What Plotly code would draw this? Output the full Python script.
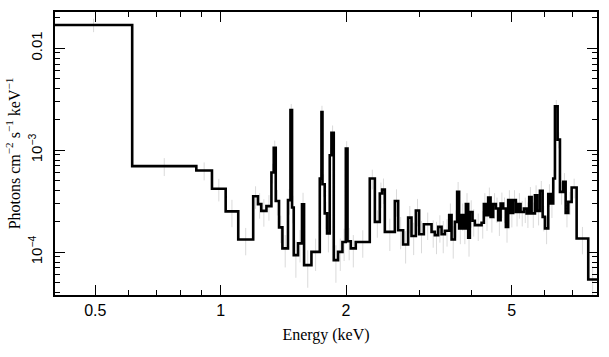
import plotly.graph_objects as go
import math

# Bin edges (keV) of the unfolded spectrum
bin_edges = [0.400, 0.613, 0.874, 0.953, 1.028, 1.102, 1.197, 1.229, 1.252, 1.288,
             1.324, 1.341, 1.356, 1.381, 1.407, 1.451, 1.471, 1.484, 1.498, 1.534,
             1.568, 1.586, 1.652, 1.730, 1.746, 1.756, 1.778, 1.801, 1.828, 1.845,
             1.869, 1.914, 1.961, 1.998, 2.017, 2.054, 2.111, 2.281, 2.346, 2.411,
             2.442, 2.479, 2.620, 2.669, 2.743, 2.820, 2.873, 2.943, 2.997, 3.076,
             3.210, 3.269, 3.330, 3.393, 3.456, 3.539, 3.586, 3.652, 3.698, 3.739,
             3.790, 3.838, 3.881, 3.931, 3.968, 4.027, 4.079, 4.233, 4.287, 4.335,
             4.390, 4.449, 4.514, 4.582, 4.640, 4.703, 4.770, 4.842, 4.904, 4.970,
             5.041, 5.117, 5.184, 5.252, 5.350, 5.431, 5.509, 5.583, 5.686, 5.759,
             5.846, 5.934, 6.010, 6.121, 6.202, 6.292, 6.352, 6.447, 6.530, 6.650,
             6.739, 6.838, 6.967, 7.161, 7.636, 8.015]

# Photons cm^-2 s^-1 keV^-1 per bin
flux = [1.69e-2, 6.97e-4, 6.32e-4, 4.19e-4, 2.51e-4, 1.33e-4, 3.54e-4, 2.96e-4, 2.54e-4, 2.83e-4,
        6.04e-4, 1.053e-3, 3.18e-4, 1.75e-4, 1.09e-4, 3.24e-4, 2.47e-3, 2.74e-4, 9.35e-5, 1.22e-4,
        2.94e-4, 7.46e-5, 1.007e-4, 5.28e-4, 2.37e-3, 4.64e-4, 2.40e-4, 1.53e-4, 8.93e-4, 1.48e-3,
        8.35e-5, 1.007e-4, 1.26e-4, 1.039e-3, 1.28e-4, 1.09e-4, 1.26e-4, 5.28e-4, 1.98e-4, 3.76e-4,
        4.12e-4, 1.58e-4, 3.18e-4, 1.64e-4, 1.19e-4, 2.18e-4, 1.44e-4, 2.56e-4, 1.50e-4, 1.88e-4,
        1.58e-4, 1.47e-4, 1.77e-4, 1.50e-4, 1.62e-4, 2.31e-4, 1.33e-4, 1.98e-4, 3.90e-4, 1.71e-4,
        2.31e-4, 1.71e-4, 2.96e-4, 1.39e-4, 2.48e-4, 2.03e-4, 1.84e-4, 1.94e-4, 2.96e-4, 2.31e-4,
        3.44e-4, 2.22e-4, 2.96e-4, 2.68e-4, 2.06e-4, 3.00e-4, 2.68e-4, 1.77e-4, 3.24e-4, 2.43e-4,
        3.24e-4, 2.48e-4, 2.96e-4, 2.48e-4, 2.68e-4, 2.40e-4, 3.48e-4, 2.40e-4, 3.62e-4, 2.54e-4,
        3.99e-4, 2.22e-4, 1.71e-4, 3.71e-4, 3.00e-4, 5.28e-4, 2.70e-3, 1.27e-3, 3.90e-4, 4.89e-4,
        2.43e-4, 3.11e-4, 4.31e-4, 1.36e-4, 5.40e-5]

# Relative 1-sigma uncertainty per bin
rel_err = [0.15, 0.20, 0.20, 0.25, 0.30, 0.30, 0.25, 0.28, 0.30, 0.28,
           0.22, 0.18, 0.28, 0.30, 0.35, 0.28, 0.15, 0.30, 0.40, 0.35,
           0.30, 0.40, 0.35, 0.25, 0.15, 0.25, 0.30, 0.35, 0.20, 0.18,
           0.40, 0.35, 0.35, 0.18, 0.35, 0.35, 0.30, 0.22, 0.30, 0.28,
           0.28, 0.35, 0.30, 0.35, 0.35, 0.30, 0.35, 0.30, 0.35, 0.30,
           0.30, 0.35, 0.30, 0.35, 0.30, 0.30, 0.35, 0.30, 0.25, 0.30,
           0.30, 0.30, 0.28, 0.35, 0.30, 0.30, 0.30, 0.30, 0.28, 0.30,
           0.25, 0.30, 0.28, 0.28, 0.30, 0.28, 0.28, 0.30, 0.25, 0.28,
           0.25, 0.28, 0.28, 0.28, 0.28, 0.28, 0.25, 0.28, 0.25, 0.28,
           0.25, 0.28, 0.30, 0.25, 0.28, 0.22, 0.15, 0.18, 0.25, 0.22,
           0.28, 0.25, 0.22, 0.30, 0.35]

assert len(bin_edges) == len(flux) + 1 == len(rel_err) + 1

x_major = [0.5, 1, 2, 5]
x_major_text = ["0.5", "1", "2", "5"]
x_minor = [0.6, 0.7, 0.8, 0.9, 3, 4, 6, 7, 8]
y_major = [1e-4, 1e-3, 1e-2]
y_major_text = ["10<sup>−4</sup>", "10<sup>−3</sup>", "0.01"]
y_minor = [4e-5, 5e-5, 6e-5, 7e-5, 8e-5, 9e-5,
           2e-4, 3e-4, 4e-4, 5e-4, 6e-4, 7e-4, 8e-4, 9e-4,
           2e-3, 3e-3, 4e-3, 5e-3, 6e-3, 7e-3, 8e-3, 9e-3, 2e-2]

centers = [math.sqrt(bin_edges[i] * bin_edges[i + 1]) for i in range(len(flux))]
errs = [f * r for f, r in zip(flux, rel_err)]

fig = go.Figure()
fig.add_trace(go.Scatter(
    x=centers, y=flux, mode="markers",
    marker=dict(size=0.1, color="rgba(0,0,0,0)"),
    error_y=dict(type="data", array=errs, color="#dadada", thickness=1, width=0),
    showlegend=False, hoverinfo="skip"))
fig.add_trace(go.Scatter(
    x=bin_edges, y=flux + [flux[-1]], mode="lines",
    line=dict(shape="hv", color="black", width=2.6),
    showlegend=False))

fig.update_layout(
    width=609, height=357,
    margin=dict(l=55, r=12, t=12, b=62),
    paper_bgcolor="white", plot_bgcolor="white",
    xaxis=dict(
        type="log", range=[math.log10(0.4), math.log10(8.015)], automargin=False,
        tickmode="array", tickvals=x_major, ticktext=x_major_text,
        ticks="inside", ticklen=10, tickwidth=1.3, tickcolor="black",
        showline=True, linecolor="black", linewidth=2, mirror="ticks",
        showgrid=False, zeroline=False,
        tickfont=dict(family="Liberation Sans, Arial", size=16, color="black"),
        minor=dict(tickmode="array", tickvals=x_minor, ticks="inside",
                   ticklen=5, tickwidth=1.3, tickcolor="black", showgrid=False),
        title=dict(text="Energy (keV)", standoff=11,
                   font=dict(family="Liberation Serif, Times New Roman", size=16, color="black")),
    ),
    yaxis=dict(
        type="log", range=[-4.42, -1.645], automargin=False,
        tickmode="array", tickvals=y_major, ticktext=y_major_text,
        ticks="inside", ticklen=10, tickwidth=1.3, tickcolor="black",
        showline=True, linecolor="black", linewidth=2, mirror="ticks",
        showgrid=False, zeroline=False, tickangle=-90, ticklabelstandoff=5,
        tickfont=dict(family="Liberation Sans, Arial", size=15, color="black"),
        minor=dict(tickmode="array", tickvals=y_minor, ticks="inside",
                   ticklen=5, tickwidth=1.3, tickcolor="black", showgrid=False),
        title=dict(text="Photons cm<sup>−2</sup> s<sup>−1</sup> keV<sup>−1</sup>", standoff=1,
                   font=dict(family="Liberation Serif, Times New Roman", size=16, color="black")),
    ),
)

fig.write_html("out.html", config={"displayModeBar": False},
               post_script="document.body.style.margin='0';")
